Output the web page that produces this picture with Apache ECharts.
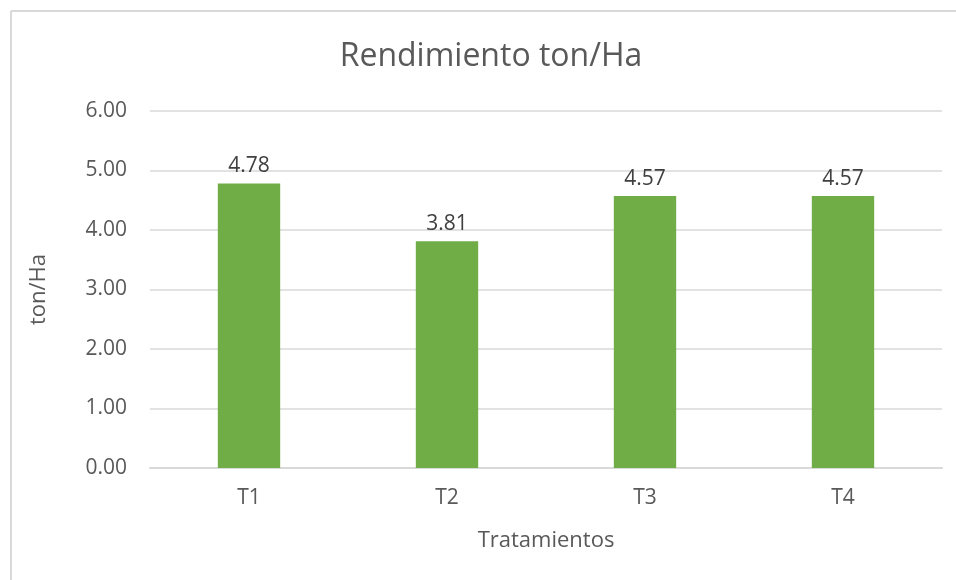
<!DOCTYPE html>
<html>
<head>
<meta charset="utf-8">
<script src="https://cdn.jsdelivr.net/npm/echarts@6/dist/echarts.min.js"></script>
<style>
  html, body { margin: 0; padding: 0; background: #fff; }
  #main { width: 956px; height: 580px; }
</style>
</head>
<body>
<div id="main"></div>
<script>
// data
var categories = ['T1', 'T2', 'T3', 'T4'];
var values = [4.78, 3.81, 4.57, 4.57];
var yTicks = [0, 1, 2, 3, 4, 5, 6];

var chartDom = document.getElementById('main');
var myChart = echarts.init(chartDom);
var font = '"Open Sans", "Noto Sans", sans-serif';

var option = {
  animation: false,
  backgroundColor: '#fff',
  textStyle: { fontFamily: font },
  title: {
    text: 'Rendimiento ton/Ha',
    left: 486,
    textAlign: 'center',
    top: 36,
    textStyle: { fontFamily: font, fontSize: 32, fontWeight: 'normal', color: '#595959' }
  },
  // outer chart frame (only top and left edges are visible)
  graphic: [
    { type: 'line', shape: { x1: 11, y1: 11, x2: 956, y2: 11 }, style: { stroke: '#d9d9d9', lineWidth: 2 } },
    { type: 'line', shape: { x1: 11, y1: 11, x2: 11, y2: 580 }, style: { stroke: '#d9d9d9', lineWidth: 2 } }
  ],
  grid: { left: 150, right: 14, top: 111, bottom: 112 },
  xAxis: {
    type: 'category',
    data: categories,
    name: 'Tratamientos',
    nameLocation: 'middle',
    nameGap: 62,
    nameTextStyle: { fontFamily: font, fontSize: 22, color: '#595959' },
    axisLine: { show: true, lineStyle: { color: '#d9d9d9', width: 2 } },
    axisTick: { show: false },
    axisLabel: { fontFamily: font, fontSize: 21, color: '#595959', margin: 20 }
  },
  yAxis: {
    type: 'value',
    min: yTicks[0],
    max: yTicks[yTicks.length - 1],
    interval: 1,
    name: 'ton/Ha',
    nameLocation: 'middle',
    nameGap: 100,
    nameTextStyle: { fontFamily: font, fontSize: 22, color: '#595959' },
    axisLine: { show: false },
    axisTick: { show: false },
    splitLine: { lineStyle: { color: '#d9d9d9', width: 1.5 } },
    axisLabel: {
      fontFamily: font, fontSize: 21, color: '#595959', margin: 23,
      formatter: function (v) { return v.toFixed(2); }
    }
  },
  series: [{
    type: 'bar',
    data: values,
    barWidth: '31.5%',
    itemStyle: { color: '#70ad47' },
    label: {
      show: true,
      position: 'top',
      distance: 7,
      fontFamily: font,
      fontSize: 21,
      color: '#404040',
      formatter: function (p) { return p.value.toFixed(2); }
    }
  }]
};
option && myChart.setOption(option);
</script>
</body>
</html>
